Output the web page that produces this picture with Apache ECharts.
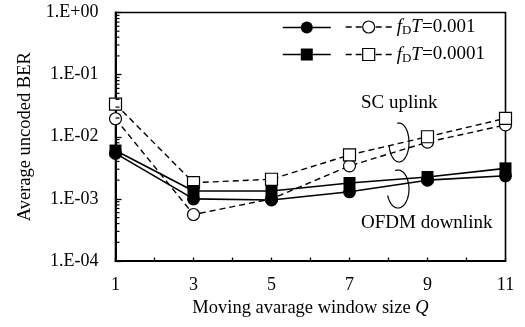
<!DOCTYPE html>
<html><head><meta charset="utf-8">
<script src="https://cdn.jsdelivr.net/npm/echarts@6/dist/echarts.min.js"></script>
<style>html,body{margin:0;padding:0;background:#fff}#c{width:525px;height:327px}</style>
</head><body><div id="c"></div>
<script>
// ---- data ----
const windowSizes = [1, 3, 5, 7, 9, 11];
const ofdm_fdt001  = [5.4e-3, 1.0e-3, 0.96e-3, 1.3e-3, 2.0e-3, 2.35e-3];
const ofdm_fdt0001 = [6.0e-3, 1.34e-3, 1.34e-3, 1.8e-3, 2.25e-3, 3.1e-3];
const sc_fdt001    = [1.95e-2, 5.6e-4, 1.0e-3, 3.4e-3, 8.2e-3, 1.55e-2];
const sc_fdt0001   = [3.35e-2, 1.82e-3, 2.07e-3, 5.1e-3, 1.0e-2, 1.98e-2];
const xTickLabels  = [1, 3, 5, 7, 9, 11];
const yTickLabels  = ['1.E-04', '1.E-03', '1.E-02', '1.E-01', '1.E+00'];
const fdtLabels    = ['0.001', '0.0001'];
const seriesNames  = ['OFDM 0.001', 'OFDM 0.0001', 'SC 0.001', 'SC 0.0001'];

const FONT = 'Liberation Serif';
const minorVals = [];
for (let e = -4; e < 0; e++) for (let k = 2; k <= 9; k++) minorVals.push(+(k * Math.pow(10, e)).toPrecision(3));

const pairs = arr => windowSizes.map((q, i) => [q, arr[i]]);

const chart = echarts.init(document.getElementById('c'), null, {renderer: 'canvas'});

const solid = {color: '#000', width: 1.6, type: 'solid'};
const dashed = {color: '#000', width: 1.4, type: [6, 4]};
const filled = {color: '#000'};
const open = {color: '#fff', borderColor: '#000', borderWidth: 1.2};

chart.setOption({
  animation: false,
  backgroundColor: '#fff',
  grid: {left: 115.5, right: 19.5, top: 12.5, bottom: 66, show: true, borderColor: '#000', borderWidth: 1.6, backgroundColor: 'transparent'},
  xAxis: {
    type: 'value', min: 1, max: 11, interval: 1,
    name: 'Moving avarage window size {i|Q}', nameLocation: 'middle', nameGap: 33,
    nameTextStyle: {fontFamily: FONT, fontSize: 18.5, color: '#000', rich: {i: {fontFamily: FONT, fontSize: 18.5, fontStyle: 'italic', color: '#000'}}},
    axisLine: {lineStyle: {color: '#000', width: 2}},
    axisTick: {show: true, inside: true, length: 3.5, lineStyle: {color: '#000', width: 1.3}},
    axisLabel: {fontFamily: FONT, fontSize: 18, color: '#000', margin: 15,
      formatter: v => (xTickLabels.indexOf(v) >= 0 ? String(v) : '')},
    splitLine: {show: false}
  },
  yAxis: {
    type: 'log', logBase: 10, min: 1e-4, max: 1, interval: 1,
    name: 'Average uncoded BER', nameLocation: 'middle', nameGap: 81,
    nameTextStyle: {fontFamily: FONT, fontSize: 18.5, color: '#000'},
    axisLine: {show: true, lineStyle: {color: '#000', width: 2}},
    axisTick: {show: true, inside: true, length: 6, lineStyle: {color: '#000', width: 1.3}},
    axisLabel: {fontFamily: FONT, fontSize: 18, color: '#000', margin: 17,
      formatter: v => { const e = Math.round(Math.log10(v)); return yTickLabels[e + 4]; }},
    splitLine: {show: false}
  },
  legend: [{
    data: [seriesNames[0], seriesNames[1]],
    orient: 'vertical', left: 282, top: 21.5, padding: 0,
    itemWidth: 48, itemHeight: 15, itemGap: 15, textGap: 0,
    selectedMode: false,
    formatter: () => '',
    textStyle: {fontSize: 12, lineHeight: 12},
    itemStyle: {color: '#000', borderWidth: 0},
    lineStyle: {color: '#000', width: 1.6, type: 'solid'}
  }, {
    data: [seriesNames[2], seriesNames[3]],
    orient: 'vertical', left: 345, top: 16.5, padding: 0,
    itemWidth: 46, itemHeight: 15, itemGap: 6.5, textGap: 10,
    selectedMode: false,
    formatter: name => '{i|f}{s|D}{i|T}{n|=' + fdtLabels[seriesNames.indexOf(name) - 2] + '}',
    textStyle: {
      fontFamily: FONT, fontSize: 19, lineHeight: 15, color: '#000',
      rich: {
        i: {fontFamily: FONT, fontSize: 19, lineHeight: 15, fontStyle: 'italic', color: '#000'},
        s: {fontFamily: FONT, fontSize: 13, lineHeight: 7, padding: [8, 0, 0, 0], color: '#000'},
        n: {fontFamily: FONT, fontSize: 19, lineHeight: 15, color: '#000'}
      }
    },
    itemStyle: {color: '#fff', borderColor: '#000', borderWidth: 1.2},
    lineStyle: {color: '#000', width: 1.4, type: [6, 4]}
  }],
  series: [
    {type: 'line', name: seriesNames[2], data: pairs(sc_fdt001), symbol: 'circle', symbolSize: 12, itemStyle: open, lineStyle: dashed, z: 2},
    {type: 'line', name: seriesNames[3], data: pairs(sc_fdt0001), symbol: 'rect', symbolSize: 12, itemStyle: open, lineStyle: dashed, z: 2},
    {type: 'line', name: seriesNames[1], data: pairs(ofdm_fdt0001), symbol: 'rect', symbolSize: 12, itemStyle: filled, lineStyle: solid, z: 3},
    {type: 'line', name: seriesNames[0], data: pairs(ofdm_fdt001), symbol: 'circle', symbolSize: 13, itemStyle: filled, lineStyle: solid, z: 3},
    {
      // log-distributed minor ticks on the value axis (inside)
      type: 'custom', name: 'minorTicks', silent: true, clip: false, z: 5,
      data: minorVals.map(v => [1, v]),
      encode: {x: 0, y: 1},
      renderItem: (params, api) => {
        const p = api.coord([api.value(0), api.value(1)]);
        return {type: 'line', shape: {x1: p[0], y1: p[1], x2: p[0] + 4, y2: p[1]}, style: {stroke: '#000', lineWidth: 1.2}};
      }
    }
  ]
});

// ---- annotations (decoration only) ----
function arcPoints(cx, cy, rx, ry, t0, t1) {
  const pts = [];
  for (let t = t0; t <= t1; t += 5) {
    const r = t * Math.PI / 180;
    pts.push([cx + rx * Math.cos(r), cy + ry * Math.sin(r)]);
  }
  return pts;
}
chart.setOption({
  graphic: [
    {type: 'text', x: 361, y: 103, style: {text: 'SC uplink', fontFamily: FONT, fontSize: 19, fill: '#000', verticalAlign: 'middle'}},
    {type: 'text', x: 361, y: 223, style: {text: 'OFDM downlink', fontFamily: FONT, fontSize: 19, fill: '#000', verticalAlign: 'middle'}},
    {type: 'polyline', shape: {points: arcPoints(399, 142.5, 10, 19.5, -100, 170)}, style: {stroke: '#000', lineWidth: 1.2, fill: null}},
    {type: 'polyline', shape: {points: arcPoints(398, 189, 11, 19, -105, 160)}, style: {stroke: '#000', lineWidth: 1.2, fill: null}}
  ]
});
</script>
</body></html>
